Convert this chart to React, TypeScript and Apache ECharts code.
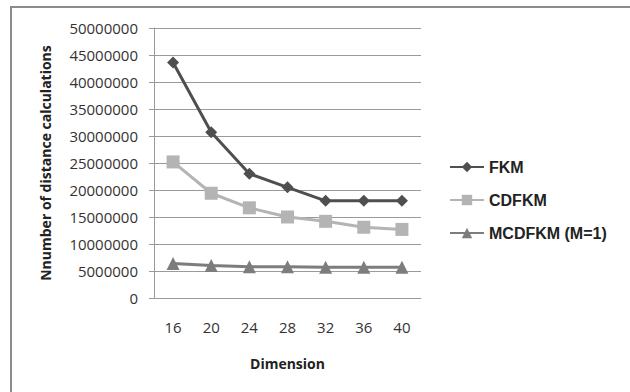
import React, { useEffect, useRef } from "react";
import * as echarts from "echarts";

const categories = ["16", "20", "24", "28", "32", "36", "40"];
const fkm = [43600000, 30700000, 23000000, 20500000, 18000000, 18000000, 18000000];
const cdfkm = [25200000, 19400000, 16700000, 15000000, 14200000, 13100000, 12700000];
const mcdfkm = [6400000, 6000000, 5800000, 5800000, 5700000, 5700000, 5700000];
const seriesNames = ["FKM", "CDFKM", "MCDFKM (M=1)"];

export default function App() {
  const ref = useRef<HTMLDivElement>(null);
  useEffect(() => {
    document.body.style.margin = "0";
    const chart = echarts.init(ref.current!, undefined, { renderer: "svg" });
    const tickFont = { fontFamily: "Open Sans", fontSize: 15, color: "#333" };
    chart.setOption({
      animation: false,
      backgroundColor: "#fff",
      graphic: [
        {
          type: "polyline",
          shape: { points: [[11, 392], [11, 7], [630, 7]] },
          style: { stroke: "#8c8c8c", lineWidth: 2, fill: "none" },
        },
      ],
      grid: { left: 154, right: 209, top: 28, bottom: 94 },
      legend: {
        orient: "vertical",
        left: 444,
        top: 154,
        itemWidth: 34,
        itemHeight: 13,
        itemGap: 17,
        textStyle: { fontFamily: "Liberation Sans", fontWeight: "bold", fontSize: 16, color: "#222" },
        data: seriesNames,
      },
      xAxis: {
        type: "category",
        data: categories,
        boundaryGap: true,
        axisLine: { lineStyle: { color: "#9a9a9a", width: 1 } },
        axisTick: { show: false },
        axisLabel: { ...tickFont, margin: 21 },
        name: "Dimension",
        nameLocation: "middle",
        nameGap: 58,
        nameTextStyle: { fontFamily: "Open Sans", fontWeight: "bold", fontSize: 14, color: "#222" },
      },
      yAxis: {
        type: "value",
        min: 0,
        max: 50000000,
        interval: 5000000,
        axisLine: { show: true, lineStyle: { color: "#9a9a9a", width: 1 } },
        axisTick: { show: true, length: 5, lineStyle: { color: "#9a9a9a" } },
        axisLabel: { ...tickFont, margin: 16, formatter: (v: number) => String(v) },
        splitLine: { lineStyle: { color: "#9a9a9a", width: 1 } },
        name: "Nnumber of distance calculations",
        nameLocation: "middle",
        nameGap: 102,
        nameTextStyle: { fontFamily: "Open Sans", fontWeight: "bold", fontSize: 14, color: "#222" },
      },
      series: [
        {
          name: seriesNames[0],
          type: "line",
          data: fkm,
          symbol: "diamond",
          symbolSize: 12,
          lineStyle: { color: "#4f4f4f", width: 3 },
          itemStyle: { color: "#4f4f4f" },
        },
        {
          name: seriesNames[1],
          type: "line",
          data: cdfkm,
          symbol: "rect",
          symbolSize: 13,
          lineStyle: { color: "#b4b4b4", width: 3 },
          itemStyle: { color: "#b4b4b4" },
        },
        {
          name: seriesNames[2],
          type: "line",
          data: mcdfkm,
          symbol: "triangle",
          symbolSize: 13,
          lineStyle: { color: "#7d7d7d", width: 3 },
          itemStyle: { color: "#7d7d7d" },
        },
      ],
    });
    return () => chart.dispose();
  }, []);
  return <div ref={ref} style={{ width: 630, height: 392 }} />;
}
